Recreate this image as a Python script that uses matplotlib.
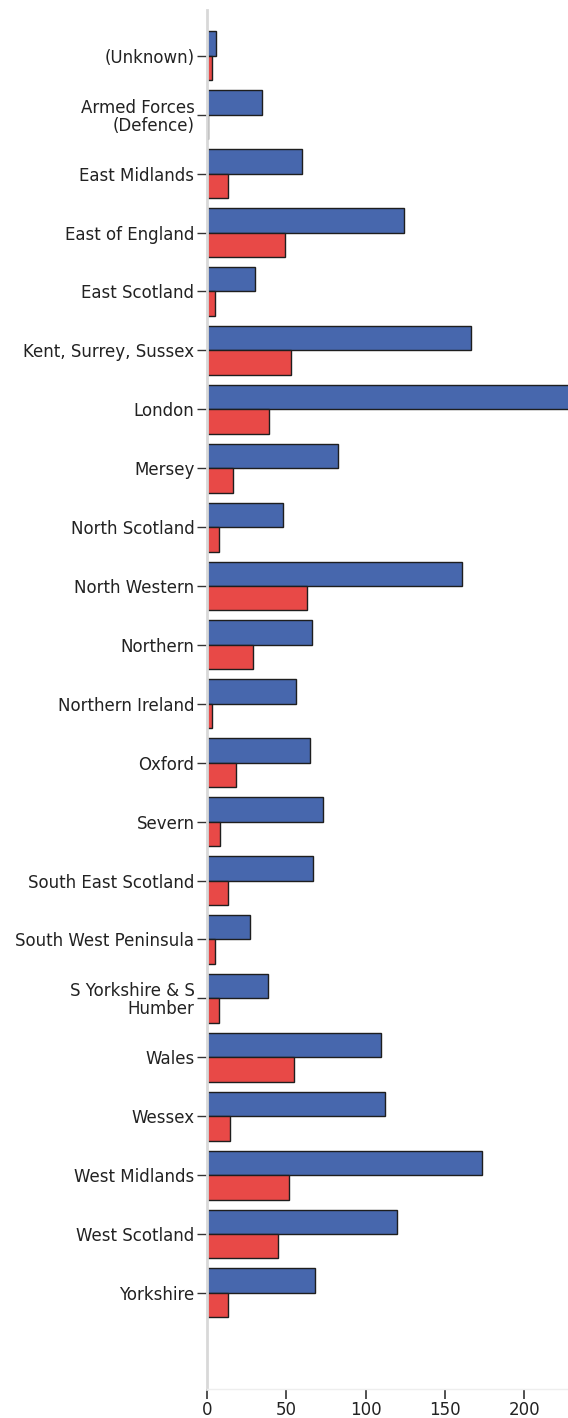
import matplotlib
matplotlib.use("Agg")
import matplotlib.pyplot as plt
import numpy as np

# Data
regions = [
    "(Unknown)", "Armed Forces\n(Defence)", "East Midlands", "East of England",
    "East Scotland", "Kent, Surrey, Sussex", "London", "Mersey",
    "North Scotland", "North Western", "Northern", "Northern Ireland",
    "Oxford", "Severn", "South East Scotland", "South West Peninsula",
    "S Yorkshire & S\nHumber", "Wales", "Wessex", "West Midlands",
    "West Scotland", "Yorkshire",
]
blue_vals = [6, 35, 60, 124, 30, 166.5, 240, 82.5, 48, 160.5, 66, 56,
             65, 73, 67, 27, 38.5, 110, 112, 173.5, 120, 68]
red_vals = [3, 0.6, 13, 49, 5, 53, 39, 16.5, 7.5, 63, 29, 3,
            18, 8.5, 13, 5, 7.5, 55, 14.5, 52, 45, 13.5]
x_ticks = [0, 50, 100, 150, 200]

plt.rcParams['font.family'] = ['DejaVu Sans']

fig = plt.figure(figsize=(5.68, 14.18), dpi=100)
ax = fig.add_axes([0.3644, 0.0205, 0.6356, 0.9725])

y = np.arange(len(regions))
h = 0.415
ax.barh(y - h / 2, blue_vals, height=h, color="#4767ad", edgecolor="#1e1e1e", linewidth=1.0)
ax.barh(y + h / 2, red_vals, height=h, color="#e84947", edgecolor="#1e1e1e", linewidth=1.0)

ax.set_xlim(0, 227.6)
ax.set_ylim(22.63, -0.78)

ax.set_yticks(y)
ax.set_yticklabels(regions, fontsize=12, color="#222222", multialignment="right",
                   linespacing=1.0)
ax.set_xticks(x_ticks)
ax.set_xticklabels([str(t) for t in x_ticks], fontsize=12, color="#222222")

ax.tick_params(axis="y", length=7, width=1, color="#333333", pad=2)
ax.tick_params(axis="x", length=7, width=1.2, color="#333333", pad=2, direction="out")

for s in ["top", "right"]:
    ax.spines[s].set_visible(False)
ax.spines["left"].set_color("#d8d8d8")
ax.spines["left"].set_linewidth(2)
ax.spines["bottom"].set_color("#eeeeee")
ax.spines["bottom"].set_linewidth(1)

fig.savefig("out.png", dpi=100)
